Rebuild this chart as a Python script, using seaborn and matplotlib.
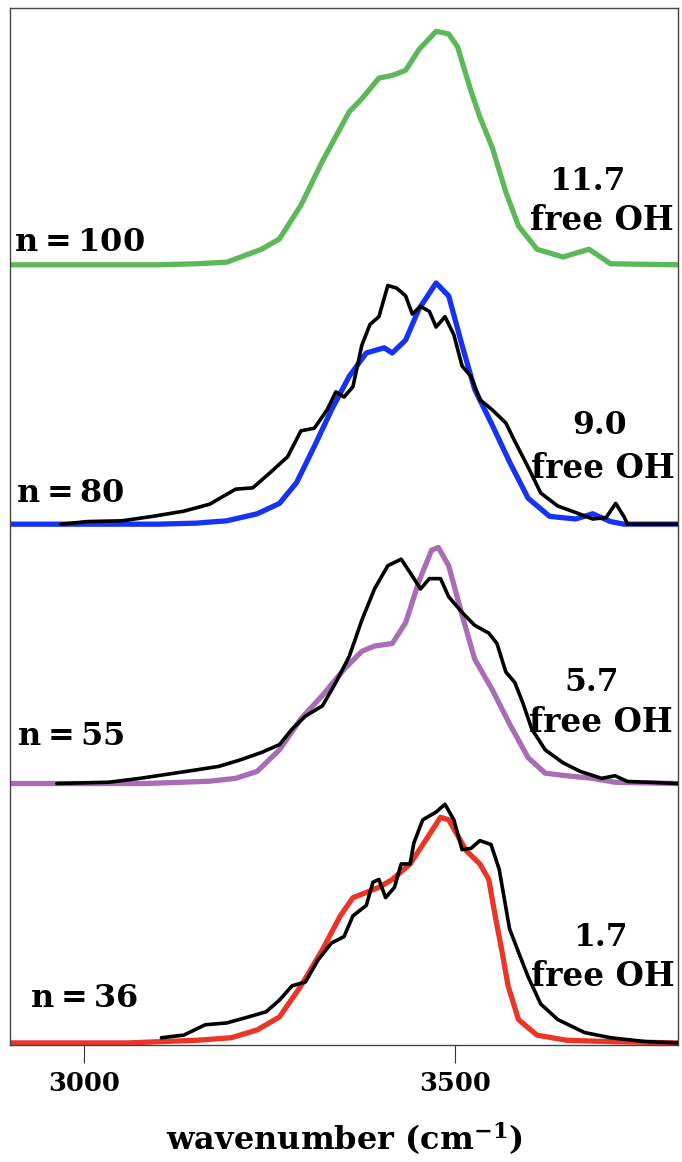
import numpy as np
import pandas as pd
import matplotlib
matplotlib.use("Agg")
import matplotlib.pyplot as plt
import seaborn as sns

# Spectra (wavenumber in cm-1, normalised intensity)
n100_sim_x = [2900, 3100, 3151, 3192, 3239, 3263, 3292, 3321, 3357, 3374, 3397, 3415, 3433, 3451,
              3474, 3491, 3503, 3521, 3533, 3550, 3568, 3585, 3610, 3645, 3680, 3709, 3800]
n100_sim_y = [0.0, 0.0, 0.004, 0.01, 0.06, 0.10, 0.23, 0.40, 0.59, 0.64, 0.72, 0.73, 0.75, 0.83,
              0.90, 0.89, 0.84, 0.67, 0.57, 0.45, 0.28, 0.15, 0.06, 0.03, 0.06, 0.004, 0.0]

n80_sim_x = [2900, 3100, 3151, 3192, 3233, 3263, 3286, 3310, 3333, 3357, 3380, 3404, 3415, 3433,
             3451, 3474, 3491, 3509, 3526, 3550, 3573, 3598, 3627, 3662, 3685, 3709, 3727, 3800]
n80_sim_y = [0.0, 0.0, 0.004, 0.013, 0.04, 0.08, 0.16, 0.30, 0.44, 0.57, 0.66, 0.68, 0.66, 0.71,
             0.83, 0.93, 0.88, 0.69, 0.52, 0.38, 0.24, 0.10, 0.03, 0.02, 0.04, 0.01, 0.0, 0.0]
n80_exp_x = [2969, 3004, 3051, 3092, 3134, 3169, 3204, 3227, 3251, 3274, 3292, 3310, 3327, 3339,
             3350, 3362, 3374, 3385, 3397, 3409, 3421, 3433, 3442, 3453, 3465, 3474, 3486, 3498,
             3509, 3521, 3533, 3550, 3568, 3580, 3598, 3615, 3638, 3662, 3685, 3703, 3716, 3727,
             3732, 3800]
n80_exp_y = [0.0, 0.01, 0.013, 0.03, 0.05, 0.077, 0.135, 0.14, 0.20, 0.26, 0.36, 0.37, 0.44, 0.51,
             0.49, 0.53, 0.69, 0.77, 0.80, 0.92, 0.91, 0.88, 0.81, 0.84, 0.82, 0.76, 0.80, 0.73,
             0.61, 0.57, 0.48, 0.44, 0.39, 0.32, 0.22, 0.12, 0.07, 0.045, 0.02, 0.025, 0.08, 0.03,
             0.0, 0.0]

n55_sim_x = [2900, 3080, 3122, 3169, 3204, 3233, 3263, 3292, 3321, 3350, 3374, 3391, 3415, 3433,
             3451, 3468, 3477, 3491, 3509, 3526, 3550, 3573, 3598, 3621, 3650, 3685, 3715, 3800]
n55_sim_y = [0.0, 0.0, 0.004, 0.009, 0.02, 0.047, 0.13, 0.25, 0.34, 0.44, 0.51, 0.53, 0.54, 0.62,
             0.78, 0.90, 0.91, 0.84, 0.65, 0.48, 0.36, 0.23, 0.10, 0.04, 0.03, 0.02, 0.005, 0.0]
n55_exp_x = [2963, 3033, 3075, 3110, 3145, 3181, 3209, 3239, 3263, 3280, 3298, 3321, 3339, 3357,
             3374, 3391, 3409, 3427, 3442, 3453, 3465, 3480, 3491, 3509, 3526, 3545, 3556, 3568,
             3580, 3591, 3603, 3621, 3645, 3668, 3697, 3715, 3732, 3768, 3800]
n55_exp_y = [0.0, 0.005, 0.02, 0.035, 0.05, 0.066, 0.09, 0.12, 0.15, 0.21, 0.26, 0.30, 0.39, 0.49,
             0.63, 0.75, 0.84, 0.865, 0.80, 0.75, 0.79, 0.79, 0.72, 0.66, 0.61, 0.58, 0.54, 0.43,
             0.39, 0.31, 0.21, 0.13, 0.08, 0.047, 0.02, 0.03, 0.008, 0.004, 0.0]

n36_sim_x = [2900, 3060, 3104, 3151, 3198, 3233, 3263, 3292, 3321, 3345, 3362, 3380, 3397, 3415,
             3439, 3462, 3480, 3491, 3503, 3515, 3533, 3545, 3553, 3563, 3571, 3585, 3610, 3650,
             3709, 3800]
n36_sim_y = [0.0, 0.0, 0.005, 0.01, 0.02, 0.05, 0.10, 0.22, 0.36, 0.49, 0.56, 0.58, 0.60, 0.63,
             0.69, 0.79, 0.87, 0.86, 0.80, 0.74, 0.69, 0.63, 0.50, 0.35, 0.22, 0.09, 0.03, 0.01,
             0.005, 0.0]
n36_exp_x = [3104, 3134, 3163, 3192, 3221, 3245, 3263, 3280, 3298, 3315, 3333, 3350, 3362, 3380,
             3389, 3397, 3406, 3418, 3427, 3439, 3444, 3456, 3474, 3486, 3498, 3509, 3521, 3533,
             3548, 3559, 3573, 3585, 3598, 3615, 3638, 3674, 3709, 3756, 3800]
n36_exp_y = [0.02, 0.03, 0.07, 0.077, 0.10, 0.12, 0.165, 0.22, 0.235, 0.32, 0.385, 0.41, 0.49, 0.53,
             0.62, 0.63, 0.56, 0.60, 0.69, 0.69, 0.77, 0.86, 0.89, 0.92, 0.86, 0.745, 0.75, 0.78,
             0.765, 0.67, 0.44, 0.35, 0.255, 0.15, 0.09, 0.04, 0.02, 0.005, 0.0]

panel_names = ["n=100", "n=80", "n=55", "n=36"]
free_oh = ["11.7", "9.0", "5.7", "1.7"]
tick_values = [3000, 3500]

sns.set_theme(style="white")
plt.rcParams["font.family"] = ["DejaVu Serif"]
plt.rcParams["font.weight"] = "bold"
plt.rcParams["mathtext.fontset"] = "dejavuserif"
plt.rcParams["text.color"] = "black"
plt.rcParams["xtick.color"] = "black"
plt.rcParams["axes.labelcolor"] = "black"

colors = {"n=100": "#5cb85a", "n=80": "#1433f5", "n=55": "#a96db6", "n=36": "#ea3527"}
offsets = {"n=100": 3.0, "n=80": 2.0, "n=55": 1.0, "n=36": 0.0}

sim = {"n=100": (n100_sim_x, n100_sim_y), "n=80": (n80_sim_x, n80_sim_y),
       "n=55": (n55_sim_x, n55_sim_y), "n=36": (n36_sim_x, n36_sim_y)}
exp = {"n=80": (n80_exp_x, n80_exp_y), "n=55": (n55_exp_x, n55_exp_y),
       "n=36": (n36_exp_x, n36_exp_y)}

fig = plt.figure(figsize=(6.82, 11.62), dpi=100)
ax = fig.add_axes([0.0147, 0.1007, 0.9795, 0.8924])

for name in panel_names:
    sx, sy = sim[name]
    df = pd.DataFrame({"x": sx, "y": np.array(sy) + offsets[name]})
    sns.lineplot(data=df, x="x", y="y", ax=ax, color=colors[name], lw=3.8,
                 sort=False, estimator=None, zorder=2)
    if name in exp:
        ex, ey = exp[name]
        de = pd.DataFrame({"x": ex, "y": np.array(ey) + offsets[name]})
        sns.lineplot(data=de, x="x", y="y", ax=ax, color="black", lw=2.6,
                     sort=False, estimator=None, zorder=3)

# labels
label_pos = {"n=100": (2905, 3.085), "n=80": (2908, 2.12), "n=55": (2910, 1.18), "n=36": (2927, 0.17)}
num_pos = {"n=100": (3678, 3.32), "n=80": (3694, 2.38), "n=55": (3684, 1.39), "n=36": (3696, 0.405)}
oh_pos = {"n=100": (3697, 3.17), "n=80": (3699, 2.215), "n=55": (3696, 1.235), "n=36": (3699, 0.255)}
for name, val in zip(panel_names, free_oh):
    ax.text(*label_pos[name], r"$\mathbf{%s}$" % name, fontsize=23, ha="left", va="center")
    ax.text(*num_pos[name], val, fontsize=22.5, ha="center", va="center")
    ax.text(*oh_pos[name], "free OH", fontsize=23.5, ha="center", va="center", clip_on=True)

ax.set_xlim(2900, 3800)
ax.set_ylim(-0.008, 3.99)
ax.set_yticks([])
ax.set_xticks(tick_values)
ax.set_xticklabels([str(t) for t in tick_values], fontsize=18.5, fontweight="bold")
ax.tick_params(axis="x", direction="out", length=13, width=0.8, color="#333333",
               pad=6, bottom=True)
ax.set_xlabel(r"wavenumber (cm$^{\mathbf{-1}}$)", fontsize=23, fontweight="bold", labelpad=17)
ax.set_ylabel("")
for s in ax.spines.values():
    s.set_color("#444444")
    s.set_linewidth(1.0)

fig.savefig("out.png", dpi=100)
